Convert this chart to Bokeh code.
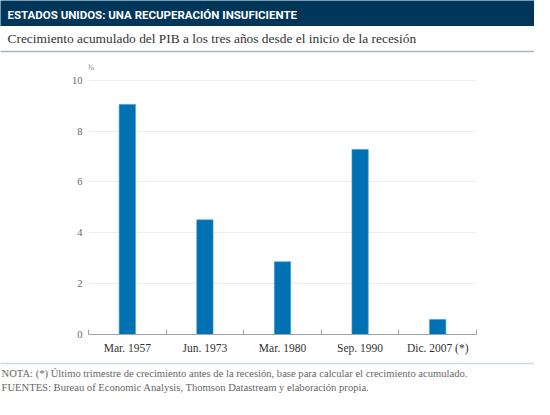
from bokeh.plotting import figure
from bokeh.models import Range1d, FixedTicker, Span, Label
from bokeh.layouts import column, row
from bokeh.embed import file_html
from bokeh.resources import INLINE
from bokeh.core.properties import value

# ---------------- data ----------------
title = "ESTADOS UNIDOS: UNA RECUPERACIÓN INSUFICIENTE"
subtitle = "Crecimiento acumulado del PIB a los tres años desde el inicio de la recesión"
categories = ["Mar. 1957", "Jun. 1973", "Mar. 1980", "Sep. 1990", "Dic. 2007 (*)"]
growth = [9.05, 4.51, 2.86, 7.28, 0.59]
y_ticks = [0, 2, 4, 6, 8, 10]
unit_label = "%"
note = "NOTA: (*) Último trimestre de crecimiento antes de la recesión, base para calcular el crecimiento acumulado."
sources = "FUENTES: Bureau of Economic Analysis, Thomson Datastream y elaboración propia."

# ---------------- styles ----------------
W = 534
NAVY = "#00365a"
BAR = "#0072b3"
SERIF = "Liberation Serif"
HEAD_FONT = "Roboto"


def blank(h, bg="white"):
    f = figure(width=W, height=h, x_range=Range1d(0, W), y_range=Range1d(h, 0),
               x_axis_type=None, y_axis_type=None, toolbar_location=None,
               output_backend="svg", min_border=0,
               background_fill_color=bg, border_fill_color=bg)
    f.outline_line_color = None
    return f


# header band
head = blank(26, NAVY)
head.text(x=[7], y=[14.5], text=[title], text_color="white",
          text_font=value(HEAD_FONT), text_font_style="bold",
          text_font_size="11.5px", text_baseline="middle", text_align="left")

# subtitle
sub = blank(32)
sub.text(x=[7], y=[11.5], text=[subtitle], text_color="#333333",
         text_font=value(SERIF), text_font_size="13.4px",
         text_baseline="middle", text_align="left")
sub.add_layout(Span(location=25, dimension="width", line_color="#a3b6c4", line_width=1.5))

# main chart
n = len(categories)
xs = [i + 0.5 for i in range(n)]
p = figure(width=W, height=302, x_range=Range1d(0, n), y_range=Range1d(0, 10.7),
           toolbar_location=None, output_backend="svg",
           min_border_left=88, min_border_right=58, min_border_top=4, min_border_bottom=26)
p.outline_line_color = None
p.vbar(x=xs, top=growth, width=0.21, color=BAR, line_color="#3f97cc", line_width=0.6)

p.xgrid.visible = False
p.ygrid.grid_line_color = "#e6eef2"
p.ygrid.ticker = FixedTicker(ticks=y_ticks[1:])

ya = p.yaxis[0]
ya.ticker = FixedTicker(ticks=y_ticks)
ya.axis_line_color = None
ya.major_tick_line_color = None
ya.minor_tick_line_color = None
ya.major_tick_in = 0
ya.major_tick_out = 0
ya.minor_tick_in = 0
ya.minor_tick_out = 0
ya.major_label_standoff = 6
ya.major_label_text_font = SERIF
ya.major_label_text_font_size = "10.5px"
ya.major_label_text_color = "#666666"

xa = p.xaxis[0]
xa.ticker = FixedTicker(ticks=xs, minor_ticks=list(range(n + 1)))
xa.major_label_overrides = {x: c for x, c in zip(xs, categories)}
xa.axis_line_color = "#9aa4aa"
xa.major_tick_line_color = None
xa.major_tick_in = 0
xa.major_tick_out = 0
xa.minor_tick_line_color = "#9aa4aa"
xa.minor_tick_in = 5
xa.minor_tick_out = 0
xa.major_label_standoff = 7
xa.major_label_text_font = SERIF
xa.major_label_text_font_size = "11.5px"
xa.major_label_text_color = "#333333"

p.add_layout(Label(x=0, y=10, x_offset=2, y_offset=13, text=unit_label,
                   text_font=SERIF, text_font_size="9px", text_color="#888888",
                   text_align="center", text_baseline="middle"))

# footer
foot = blank(39)
foot.add_layout(Span(location=3, dimension="width", line_color="#cfdbe2", line_width=1.5))
foot.text(x=[1, 1], y=[13, 27], text=[note, sources], text_color="#666666",
          text_font=value(SERIF), text_font_size="10.6px",
          text_baseline="middle", text_align="left")

layout = column(head, sub, row(p), foot)
open("out.html", "w").write(file_html(layout, INLINE))
